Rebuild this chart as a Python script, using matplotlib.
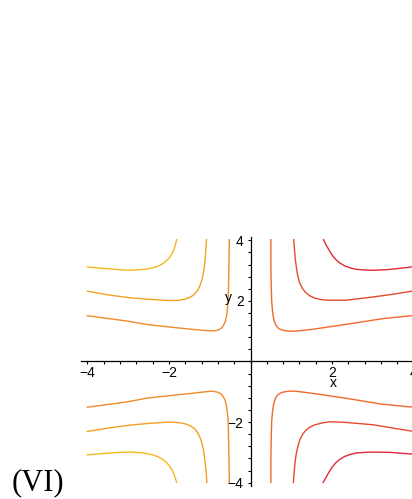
import numpy as np
import matplotlib
matplotlib.use("Agg")
import matplotlib.pyplot as plt

# contour curves, one pair of lists per curve
# upper left (yellow -> orange, outer to inner)
ul_outer_x = [-4.0, -3.6, -3.2, -2.95, -2.71, -2.55, -2.40, -2.26, -2.14, -2.04, -1.97, -1.91, -1.87, -1.84, -1.81]
ul_outer_y = [3.12, 3.07, 3.03, 3.01, 3.03, 3.05, 3.09, 3.15, 3.24, 3.35, 3.46, 3.59, 3.72, 3.86, 4.02]
ul_mid_x = [-4.0, -3.5, -2.95, -2.46, -1.97, -1.75, -1.60, -1.48, -1.38, -1.30, -1.24, -1.19, -1.15, -1.12, -1.10, -1.08]
ul_mid_y = [2.32, 2.20, 2.10, 2.05, 2.01, 2.02, 2.06, 2.12, 2.21, 2.34, 2.50, 2.70, 2.95, 3.25, 3.60, 4.02]
ul_inner_x = [-4.0, -3.0, -2.54, -2.0, -1.5, -1.1, -0.95, -0.84, -0.76, -0.70, -0.66, -0.62, -0.59, -0.57, -0.55, -0.54, -0.53, -0.52]
ul_inner_y = [1.51, 1.33, 1.22, 1.14, 1.07, 1.02, 1.01, 1.02, 1.06, 1.12, 1.20, 1.32, 1.48, 1.68, 1.95, 2.40, 3.10, 4.02]

# upper right (orange -> red, inner to outer)
ur_inner_x = [0.50, 0.50, 0.51, 0.52, 0.54, 0.56, 0.59, 0.63, 0.68, 0.75, 0.84, 0.95, 1.10, 1.51, 2.32, 3.22, 4.0]
ur_inner_y = [4.02, 3.03, 2.40, 1.95, 1.66, 1.45, 1.30, 1.18, 1.10, 1.05, 1.02, 1.00, 1.00, 1.06, 1.22, 1.41, 1.52]
ur_mid_x = [1.06, 1.08, 1.10, 1.13, 1.16, 1.21, 1.27, 1.35, 1.45, 1.58, 1.75, 1.95, 2.32, 3.01, 3.5, 4.0]
ur_mid_y = [4.02, 3.65, 3.36, 3.05, 2.81, 2.58, 2.42, 2.28, 2.17, 2.09, 2.04, 2.02, 2.02, 2.13, 2.22, 2.33]
ur_outer_x = [1.79, 1.85, 1.92, 2.00, 2.08, 2.18, 2.30, 2.44, 2.60, 2.80, 2.98, 3.34, 3.7, 4.0]
ur_outer_y = [4.02, 3.85, 3.69, 3.51, 3.38, 3.26, 3.16, 3.09, 3.04, 3.02, 3.01, 3.03, 3.08, 3.13]

# lower left
ll_outer_x = [-4.0, -3.6, -3.2, -2.95, -2.71, -2.55, -2.40, -2.26, -2.14, -2.04, -1.97, -1.91, -1.87, -1.84, -1.81]
ll_outer_y = [-3.08, -3.04, -3.00, -2.99, -3.01, -3.04, -3.08, -3.15, -3.24, -3.36, -3.48, -3.61, -3.74, -3.87, -3.99]
ll_mid_x = [-4.0, -3.5, -2.95, -2.46, -1.97, -1.75, -1.60, -1.48, -1.38, -1.30, -1.24, -1.19, -1.15, -1.12, -1.09, -1.07]
ll_mid_y = [-2.31, -2.20, -2.10, -2.04, -2.00, -2.02, -2.06, -2.12, -2.21, -2.34, -2.50, -2.70, -2.95, -3.25, -3.60, -3.99]
ll_inner_x = [-4.0, -3.0, -2.54, -2.0, -1.5, -1.1, -0.95, -0.84, -0.76, -0.70, -0.66, -0.62, -0.59, -0.57, -0.55, -0.54, -0.53, -0.52]
ll_inner_y = [-1.51, -1.33, -1.21, -1.13, -1.06, -1.00, -0.98, -1.00, -1.04, -1.10, -1.18, -1.30, -1.46, -1.66, -1.93, -2.38, -3.08, -3.99]

# lower right
lr_inner_x = [0.50, 0.50, 0.51, 0.52, 0.54, 0.56, 0.59, 0.63, 0.68, 0.75, 0.84, 0.95, 1.10, 1.51, 2.32, 3.22, 4.0]
lr_inner_y = [-3.99, -3.03, -2.40, -1.95, -1.66, -1.45, -1.30, -1.17, -1.09, -1.03, -1.00, -0.98, -0.98, -1.05, -1.21, -1.41, -1.51]
lr_mid_x = [1.05, 1.07, 1.09, 1.12, 1.16, 1.21, 1.27, 1.35, 1.45, 1.58, 1.75, 1.95, 2.32, 3.01, 3.5, 4.0]
lr_mid_y = [-3.99, -3.65, -3.36, -3.05, -2.81, -2.58, -2.42, -2.28, -2.17, -2.09, -2.03, -1.99, -2.01, -2.09, -2.20, -2.31]
lr_outer_x = [1.78, 1.85, 1.92, 2.00, 2.08, 2.18, 2.30, 2.44, 2.60, 2.80, 2.98, 3.42, 4.0]
lr_outer_y = [-3.99, -3.83, -3.66, -3.49, -3.36, -3.24, -3.14, -3.07, -3.02, -3.00, -2.99, -3.00, -3.06]

curves = [
    (ul_outer_x, ul_outer_y, "#f5b81c"),
    (ul_mid_x, ul_mid_y, "#f5a020"),
    (ul_inner_x, ul_inner_y, "#f08a2a"),
    (ll_outer_x, ll_outer_y, "#f5b81c"),
    (ll_mid_x, ll_mid_y, "#f5a020"),
    (ll_inner_x, ll_inner_y, "#f08a2a"),
    (ur_inner_x, ur_inner_y, "#f06a2c"),
    (ur_mid_x, ur_mid_y, "#e84a2e"),
    (ur_outer_x, ur_outer_y, "#e0283a"),
    (lr_inner_x, lr_inner_y, "#f06a2c"),
    (lr_mid_x, lr_mid_y, "#e84a2e"),
    (lr_outer_x, lr_outer_y, "#e0283a"),
]

fig = plt.figure(figsize=(4.12, 4.99), dpi=100)
# axes run off the right edge, like the cropped original
ax = fig.add_axes([0.1971, 0.0267, 0.8219, 0.4978])

for cx, cy, col in curves:
    ax.plot(cx, cy, color=col, lw=1.0, solid_joinstyle="round")

ax.set_xlim(-4.15, 4.15)
ax.set_ylim(-4.1, 4.1)

for s in ["top", "right"]:
    ax.spines[s].set_visible(False)
ax.spines["left"].set_position(("data", 0))
ax.spines["bottom"].set_position(("data", 0))
ax.spines["left"].set_linewidth(0.9)
ax.spines["bottom"].set_linewidth(0.9)

ax.set_xticks([-4, -2, 2, 4])
ax.set_yticks([-4, -2, 2, 4])
ax.set_xticks(np.arange(-4, 4.01, 0.4), minor=True)
ax.set_yticks(np.arange(-4, 4.01, 0.4), minor=True)
ax.tick_params(which="both", direction="out", length=2.4, width=0.8, color="black")
ax.tick_params(axis="x", which="major", pad=1, labelsize=10)
ax.tick_params(axis="y", which="major", pad=2.5, labelsize=10)
for lab in ax.get_xticklabels() + ax.get_yticklabels():
    lab.set_fontfamily("Liberation Sans")

ax.text(2.02, -0.72, "x", ha="center", va="center", fontsize=10, family="Liberation Sans")
ax.text(-0.55, 2.09, "y", ha="center", va="center", fontsize=10, family="Liberation Sans")

fig.text(12 / 412, 9 / 499, "(VI)", ha="left", va="baseline",
         fontsize=22, family="Liberation Serif")

fig.savefig("out.png", dpi=100)
